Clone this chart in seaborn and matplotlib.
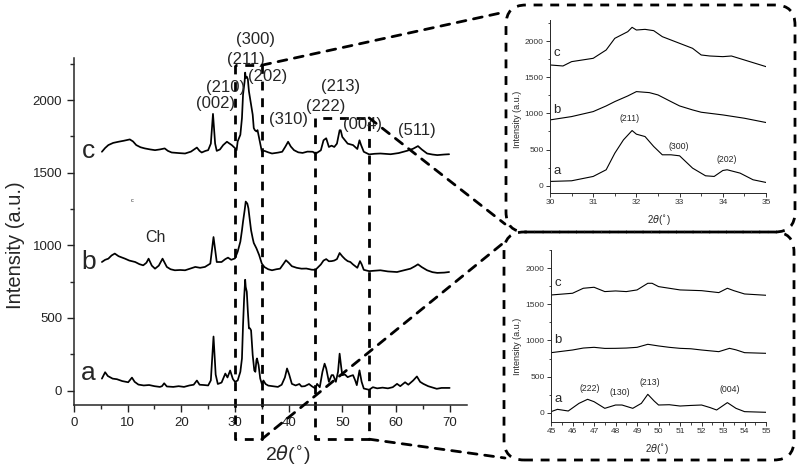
import matplotlib
matplotlib.use("Agg")
import matplotlib.pyplot as plt
from matplotlib.patches import FancyBboxPatch, ConnectionPatch
from matplotlib.ticker import MultipleLocator
import seaborn as sns

# XRD patterns (2theta in degrees, intensity a.u.)
two_theta_a = [5.2, 5.8, 6.3, 7.2, 8.0, 9.0, 10.1, 10.8, 11.3, 12.0, 13.0, 14.0, 15.0, 16.0, 16.4,
               16.8, 17.3, 18.5, 19.5, 20.5, 21.5, 22.3, 22.9, 23.4, 24.2, 25.0, 25.5, 26.0, 26.4,
               26.8, 27.5, 28.2, 28.6, 29.1, 29.6, 30.0, 30.5, 31.0, 31.3, 31.5, 31.7, 31.9, 32.0,
               32.2, 32.4, 32.6, 32.8, 33.0, 33.3, 33.6, 33.8, 34.0, 34.1, 34.4, 34.7, 35.0, 35.3,
               35.7, 36.2, 37.0, 38.0, 38.7, 39.3, 39.7, 40.1, 40.6, 41.3, 42.0, 42.4, 43.0, 43.8,
               44.3, 45.0, 45.3, 45.8, 46.3, 46.7, 47.0, 47.5, 48.0, 48.3, 48.8, 49.2, 49.5, 49.8,
               50.0, 50.5, 51.0, 51.5, 52.0, 52.4, 52.7, 53.2, 53.6, 54.0, 55.0, 55.7, 56.5, 57.5,
               58.5, 59.4, 60.2, 60.8, 61.7, 62.3, 63.2, 63.9, 64.5, 65.1, 66.0, 67.6, 68.5, 70.0]
intensity_a = [82, 126, 100, 82, 78, 65, 57, 89, 60, 41, 35, 38, 30, 25, 30,
               50, 28, 25, 30, 25, 35, 40, 69, 40, 38, 35, 70, 372, 110,
               45, 55, 117, 90, 138, 80, 60, 69, 129, 221, 450, 634, 763, 713,
               680, 543, 428, 428, 414, 244, 138, 129, 211, 221, 175, 83, 46, 69,
               45, 34, 30, 25, 40, 90, 152, 110, 46, 35, 45, 28, 30, 45,
               30, 14, 46, 23, 129, 185, 152, 60, 106, 106, 60, 129, 254, 160,
               106, 110, 92, 100, 106, 70, 37, 139, 60, 14, 5, 23, 15, 20,
               15, 23, 46, 30, 57, 40, 69, 97, 60, 46, 30, 12, 18, 18]

two_theta_b = [5.2, 5.8, 6.4, 7.0, 7.6, 8.3, 9.0, 9.5, 10.3, 11.4, 12.2, 12.9, 13.5, 13.9, 14.5,
               15.1, 15.8, 16.5, 17.3, 18.0, 18.8, 19.8, 20.7, 21.7, 22.6, 23.5, 24.4, 25.4, 26.0,
               26.6, 27.5, 28.2, 28.7, 29.3, 30.0, 30.5, 31.0, 31.3, 31.5, 31.8, 32.0, 32.3, 32.5,
               32.8, 33.0, 33.3, 33.5, 34.0, 34.5, 35.0, 35.5, 36.2, 36.9, 37.7, 38.4, 39.0, 39.5,
               40.0, 40.6, 41.5, 42.4, 43.3, 44.3, 45.0, 46.0, 46.5, 47.0, 47.5, 48.0, 48.5, 49.0,
               49.5, 50.0, 50.5, 51.0, 51.5, 52.0, 52.8, 53.3, 53.6, 54.0, 55.0, 56.0, 57.1, 58.5,
               60.2, 61.5, 62.7, 63.5, 64.1, 64.8, 65.8, 66.8, 67.7, 69.0, 69.9]
intensity_b = [885, 900, 908, 930, 943, 925, 915, 908, 895, 885, 870, 862, 880, 908, 860,
               839, 860, 908, 851, 835, 828, 830, 828, 840, 851, 845, 851, 874, 1057,
               885, 885, 905, 915, 900, 910, 956, 1025, 1103, 1163, 1241, 1301, 1287, 1255,
               1163, 1103, 1048, 1016, 979, 933, 874, 850, 835, 828, 835, 839, 870, 897,
               880, 856, 845, 839, 840, 832, 831, 868, 895, 905, 890, 891, 895, 905,
               947, 924, 905, 891, 885, 868, 845, 891, 870, 831, 822, 825, 828, 820,
               816, 828, 839, 855, 869, 850, 828, 815, 810, 812, 816]

two_theta_c = [5.2, 5.8, 6.4, 7.3, 8.3, 9.3, 10.4, 11.0, 11.6, 12.4, 13.2, 14.2, 15.1, 16.0, 16.9,
               17.5, 18.2, 19.5, 20.7, 21.8, 22.9, 23.4, 23.8, 24.5, 25.0, 25.5, 25.9, 26.3, 26.6,
               27.2, 27.8, 28.5, 29.0, 29.4, 30.0, 30.3, 30.5, 31.0, 31.3, 31.5, 31.8, 31.9, 32.0,
               32.2, 32.4, 32.6, 33.0, 33.3, 33.5, 33.7, 34.0, 34.2, 34.5, 35.0, 35.5, 36.2, 36.9,
               38.0, 38.8, 39.4, 39.9, 40.4, 41.0, 41.8, 42.6, 43.5, 44.5, 45.0, 46.0, 46.5, 47.0,
               47.5, 48.0, 48.5, 49.0, 49.5, 49.7, 50.0, 51.0, 52.0, 52.8, 53.2, 53.5, 54.0, 55.0,
               56.0, 57.1, 59.0, 60.5, 62.1, 63.2, 64.1, 64.8, 65.8, 66.8, 67.7, 69.0, 69.9]
intensity_c = [1644, 1670, 1690, 1705, 1713, 1720, 1729, 1715, 1690, 1675, 1667, 1660, 1655, 1660, 1667,
               1650, 1639, 1635, 1632, 1645, 1673, 1650, 1639, 1650, 1655, 1700, 1905, 1700, 1650,
               1660, 1690, 1713, 1700, 1690, 1669, 1655, 1715, 1761, 1876, 2037, 2129, 2189, 2152,
               2161, 2143, 2060, 1968, 1899, 1807, 1793, 1784, 1793, 1738, 1646, 1650, 1640, 1632,
               1638, 1644, 1680, 1713, 1680, 1655, 1640, 1636, 1645, 1644, 1630, 1654, 1723, 1737,
               1677, 1686, 1677, 1700, 1792, 1792, 1746, 1700, 1690, 1663, 1723, 1690, 1644, 1626,
               1630, 1632, 1627, 1635, 1651, 1665, 1683, 1660, 1632, 1625, 1621, 1625, 1627]

series = [(two_theta_a, intensity_a), (two_theta_b, intensity_b), (two_theta_c, intensity_c)]

# peak labels on the main plot (text, 2theta, height)
main_labels = ["(300)", "(211)", "(210)", "(202)", "(002)", "(310)", "(213)", "(222)", "(004)", "(511)"]
main_label_x = [33.8, 32.1, 28.2, 36.0, 26.3, 40.0, 49.7, 46.9, 53.7, 63.9]
main_label_y = [2420, 2276, 2088, 2161, 1973, 1868, 2092, 1959, 1829, 1789]

inset1_labels = ["(211)", "(300)", "(202)"]
inset1_x = [31.85, 32.97, 34.09]
inset1_y = [933, 543, 368]
inset2_labels = ["(222)", "(130)", "(213)", "(004)"]
inset2_x = [46.81, 48.18, 49.57, 53.33]
inset2_y = [337, 277, 420, 323]

sns.set_style("ticks")
plt.rcParams['font.family'] = ['Liberation Sans', 'DejaVu Sans']
plt.rcParams['axes.linewidth'] = 1.1

fig = plt.figure(figsize=(8, 4.71), dpi=100)
ax = fig.add_axes([0.0925, 0.140, 0.491, 0.737])

for tt, inten in series:
    sns.lineplot(x=tt, y=inten, ax=ax, color="black", lw=1.25, estimator=None, sort=False)

ax.set_xlim(0, 73.2)
ax.set_ylim(-100, 2290)
ax.set_xticks(range(0, 71, 10))
ax.set_yticks([0, 500, 1000, 1500, 2000])
ax.xaxis.set_minor_locator(MultipleLocator(5))
ax.yaxis.set_minor_locator(MultipleLocator(250))
ax.tick_params(which="major", direction="out", length=5, width=1, labelsize=9.5, colors="#222222")
ax.tick_params(which="minor", direction="out", length=3, width=1)
sns.despine(ax=ax)
ax.set_ylabel("Intensity (a.u.)", fontsize=14.5)
ax.yaxis.set_label_coords(-0.125, 0.461)
ax.set_xlabel(r"2$\theta$($^{\circ}$)", fontsize=14)
ax.xaxis.set_label_coords(0.545, -0.108)

for lab, x, y in zip(main_labels, main_label_x, main_label_y):
    ax.text(x, y, lab, ha="center", va="center", fontsize=12, clip_on=False)
ax.text(15.2, 1056, "Ch", ha="center", va="center", fontsize=11.5)
ax.text(10.9, 1308, "c", ha="center", va="center", fontsize=4)
for lab, y in zip(["a", "b", "c"], [121, 888, 1652]):
    ax.text(2.7, y, lab, ha="center", va="center", fontsize=19)

dash = (0, (3.2, 2.8))
ybot = -335
for x0, x1, ytop in [(30, 35, 2240), (45, 55, 1877)]:
    ax.plot([x0, x0, x1, x1, x0], [ytop, ybot, ybot, ytop, ytop], color="black",
            lw=2, ls=dash, clip_on=False)

# rounded dashed frames around the insets
inch = fig.dpi_scale_trans
for (bx, by, bw, bh) in [(5.06, 2.39, 2.89, 2.27), (5.04, 0.11, 2.90, 2.28)]:
    fig.add_artist(FancyBboxPatch((bx, by), bw, bh, boxstyle="round,pad=0,rounding_size=0.2",
                                  transform=inch, fill=False, ec="black", lw=2, ls=dash))

# lines from zoom windows to the insets
for xyA, xyB in [((35, 2240), (5.05, 4.59)), ((35, ybot), (5.07, 2.31)),
                 ((55, 1877), (5.05, 2.47)), ((55, ybot), (5.05, 0.13))]:
    fig.add_artist(ConnectionPatch(xyA=xyA, coordsA=ax.transData, xyB=xyB, coordsB=inch,
                                   color="black", lw=2, ls=dash))

# insets
ax1 = fig.add_axes([0.6875, 0.5902, 0.27, 0.3673])
ax2 = fig.add_axes([0.6888, 0.1047, 0.2688, 0.3645])
for axi, lims, ylims in [(ax1, (30, 35), (-100, 2290)), (ax2, (45, 55), (-125, 2253))]:
    for tt, inten in series:
        sns.lineplot(x=tt, y=inten, ax=axi, color="black", lw=0.8, estimator=None, sort=False)
    axi.set_xlim(*lims)
    axi.set_ylim(*ylims)
    axi.set_yticks([0, 500, 1000, 1500, 2000])
    axi.yaxis.set_minor_locator(MultipleLocator(250))
    axi.tick_params(which="major", direction="out", length=3, width=0.7, pad=1.5,
                    labelsize=6, colors="#333333")
    axi.tick_params(which="minor", direction="out", length=1.8, width=0.6)
    for s in axi.spines.values():
        s.set_linewidth(0.7)
    sns.despine(ax=axi)
    axi.set_ylabel("Intensity (a.u.)", fontsize=6.5)
    axi.set_xlabel(r"2$\theta$($^{\circ}$)", fontsize=7)

ax1.set_xticks(range(30, 36))
ax1.xaxis.set_minor_locator(MultipleLocator(0.5))
ax2.set_xticks(range(45, 56))
ax2.xaxis.set_minor_locator(MultipleLocator(0.5))
ax1.yaxis.set_label_coords(-0.13, 0.428)
ax1.xaxis.set_label_coords(0.505, -0.116)
ax2.yaxis.set_label_coords(-0.133, 0.437)
ax2.xaxis.set_label_coords(0.493, -0.116)

for lab, x, y in zip(inset1_labels, inset1_x, inset1_y):
    ax1.text(x, y, lab, ha="center", va="center", fontsize=6.3)
for lab, x, y in zip(inset2_labels, inset2_x, inset2_y):
    ax2.text(x, y, lab, ha="center", va="center", fontsize=6.3)
for lab, y in zip(["a", "b", "c"], [198, 1048, 1830]):
    ax1.text(30.16, y, lab, ha="center", va="center", fontsize=9.5)
for lab, y in zip(["a", "b", "c"], [185, 1007, 1792]):
    ax2.text(45.32, y, lab, ha="center", va="center", fontsize=9.5)

fig.savefig("out.png", dpi=100)
